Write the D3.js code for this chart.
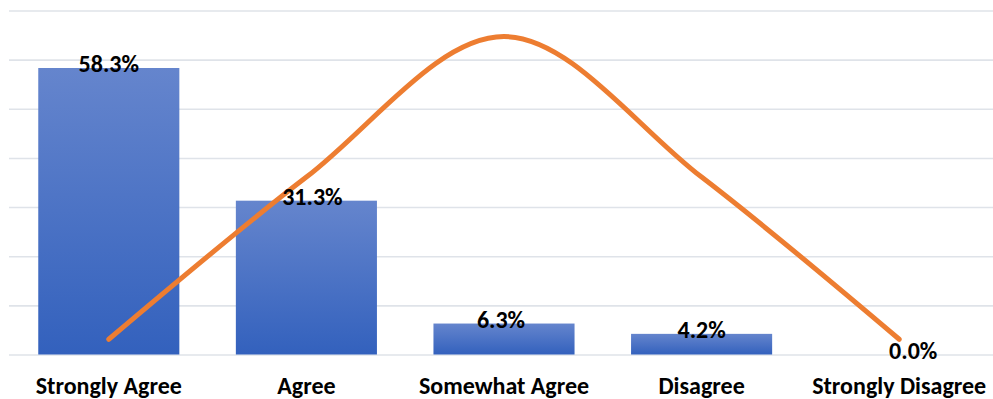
<!DOCTYPE html>
<html>
<head>
<meta charset="utf-8">
<script src="https://cdn.jsdelivr.net/npm/d3@7"></script>
<style>
  html, body { margin: 0; padding: 0; background: #ffffff; }
  svg { display: block; }
  text { font-family: Calibri, Carlito, "Open Sans", "Noto Sans", sans-serif; font-weight: bold; fill: #000; }
</style>
</head>
<body>
<svg id="chart" width="993" height="399"></svg>
<script>
// Survey responses (percent of respondents)
const categories = ["Strongly Agree", "Agree", "Somewhat Agree", "Disagree", "Strongly Disagree"];
const responseShares = [58.3, 31.3, 6.3, 4.2, 0.0];
// Bell-shaped reference curve plotted on a secondary (hidden) axis
const curveValues = [3.1, 36.1, 64.7, 36.1, 3.1];
const gridTicks = [0, 10, 20, 30, 40, 50, 60, 70];

// Horizontal nudges for the data labels (px)
const labelShiftX = [0, 6, -3, 0, 14];

const svg = d3.select("#chart");

const x = d3.scaleBand()
  .domain(categories)
  .range([10, 998])
  .paddingInner(0.286)
  .paddingOuter(0.143);

const y = d3.scaleLinear().domain([0, 70]).range([354.5, 10.5]);
const y2 = d3.scaleLinear().domain([0, 70]).range([354.5, 10.5]);

// Bar fill: lighter at the top, deeper blue at the base
const defs = svg.append("defs");
const grad = defs.append("linearGradient")
  .attr("id", "barGrad")
  .attr("x1", 0).attr("y1", 0).attr("x2", 0).attr("y2", 1);
grad.append("stop").attr("offset", "0%").attr("stop-color", "#6585cd");
grad.append("stop").attr("offset", "100%").attr("stop-color", "#3361bd");

// Gridlines
const yAxis = d3.axisLeft(y).tickValues(gridTicks).tickSize(-(998 - 9)).tickFormat("");
const gridG = svg.append("g")
  .attr("transform", "translate(9,0)")
  .call(yAxis);
gridG.select(".domain").remove();
gridG.selectAll(".tick line")
  .attr("stroke", "#dfe3e9")
  .attr("stroke-width", 1.6);

// Bars
svg.append("g").selectAll("rect")
  .data(responseShares)
  .join("rect")
  .attr("x", (d, i) => x(categories[i]))
  .attr("width", x.bandwidth())
  .attr("y", d => y(d))
  .attr("height", d => y(0) - y(d))
  .attr("fill", "url(#barGrad)");

// Smoothed curve
const line = d3.line()
  .x((d, i) => x(categories[i]) + x.bandwidth() / 2)
  .y(d => y2(d))
  .curve(d3.curveCardinal.tension(0));

svg.append("path")
  .datum(curveValues)
  .attr("d", line)
  .attr("fill", "none")
  .attr("stroke", "#ed7d31")
  .attr("stroke-width", 5)
  .attr("stroke-linecap", "round")
  .attr("stroke-linejoin", "round");

// Data labels
svg.append("g").selectAll("text")
  .data(responseShares)
  .join("text")
  .attr("x", (d, i) => x(categories[i]) + x.bandwidth() / 2 + labelShiftX[i])
  .attr("y", d => y(d) + 4.5)
  .attr("text-anchor", "middle")
  .style("font-size", "24px")
  .text(d => d.toFixed(1) + "%");

// Category labels
const xAxis = d3.axisBottom(x).tickSize(0).tickPadding(0);
const xG = svg.append("g")
  .attr("transform", "translate(0,393.5)")
  .call(xAxis);
xG.select(".domain").remove();
xG.attr("font-family", null).attr("font-size", null);
xG.selectAll(".tick text")
  .attr("y", 0)
  .attr("dy", 0)
  .style("font-size", "24px")
  .style("fill", "#000");
</script>
</body>
</html>
